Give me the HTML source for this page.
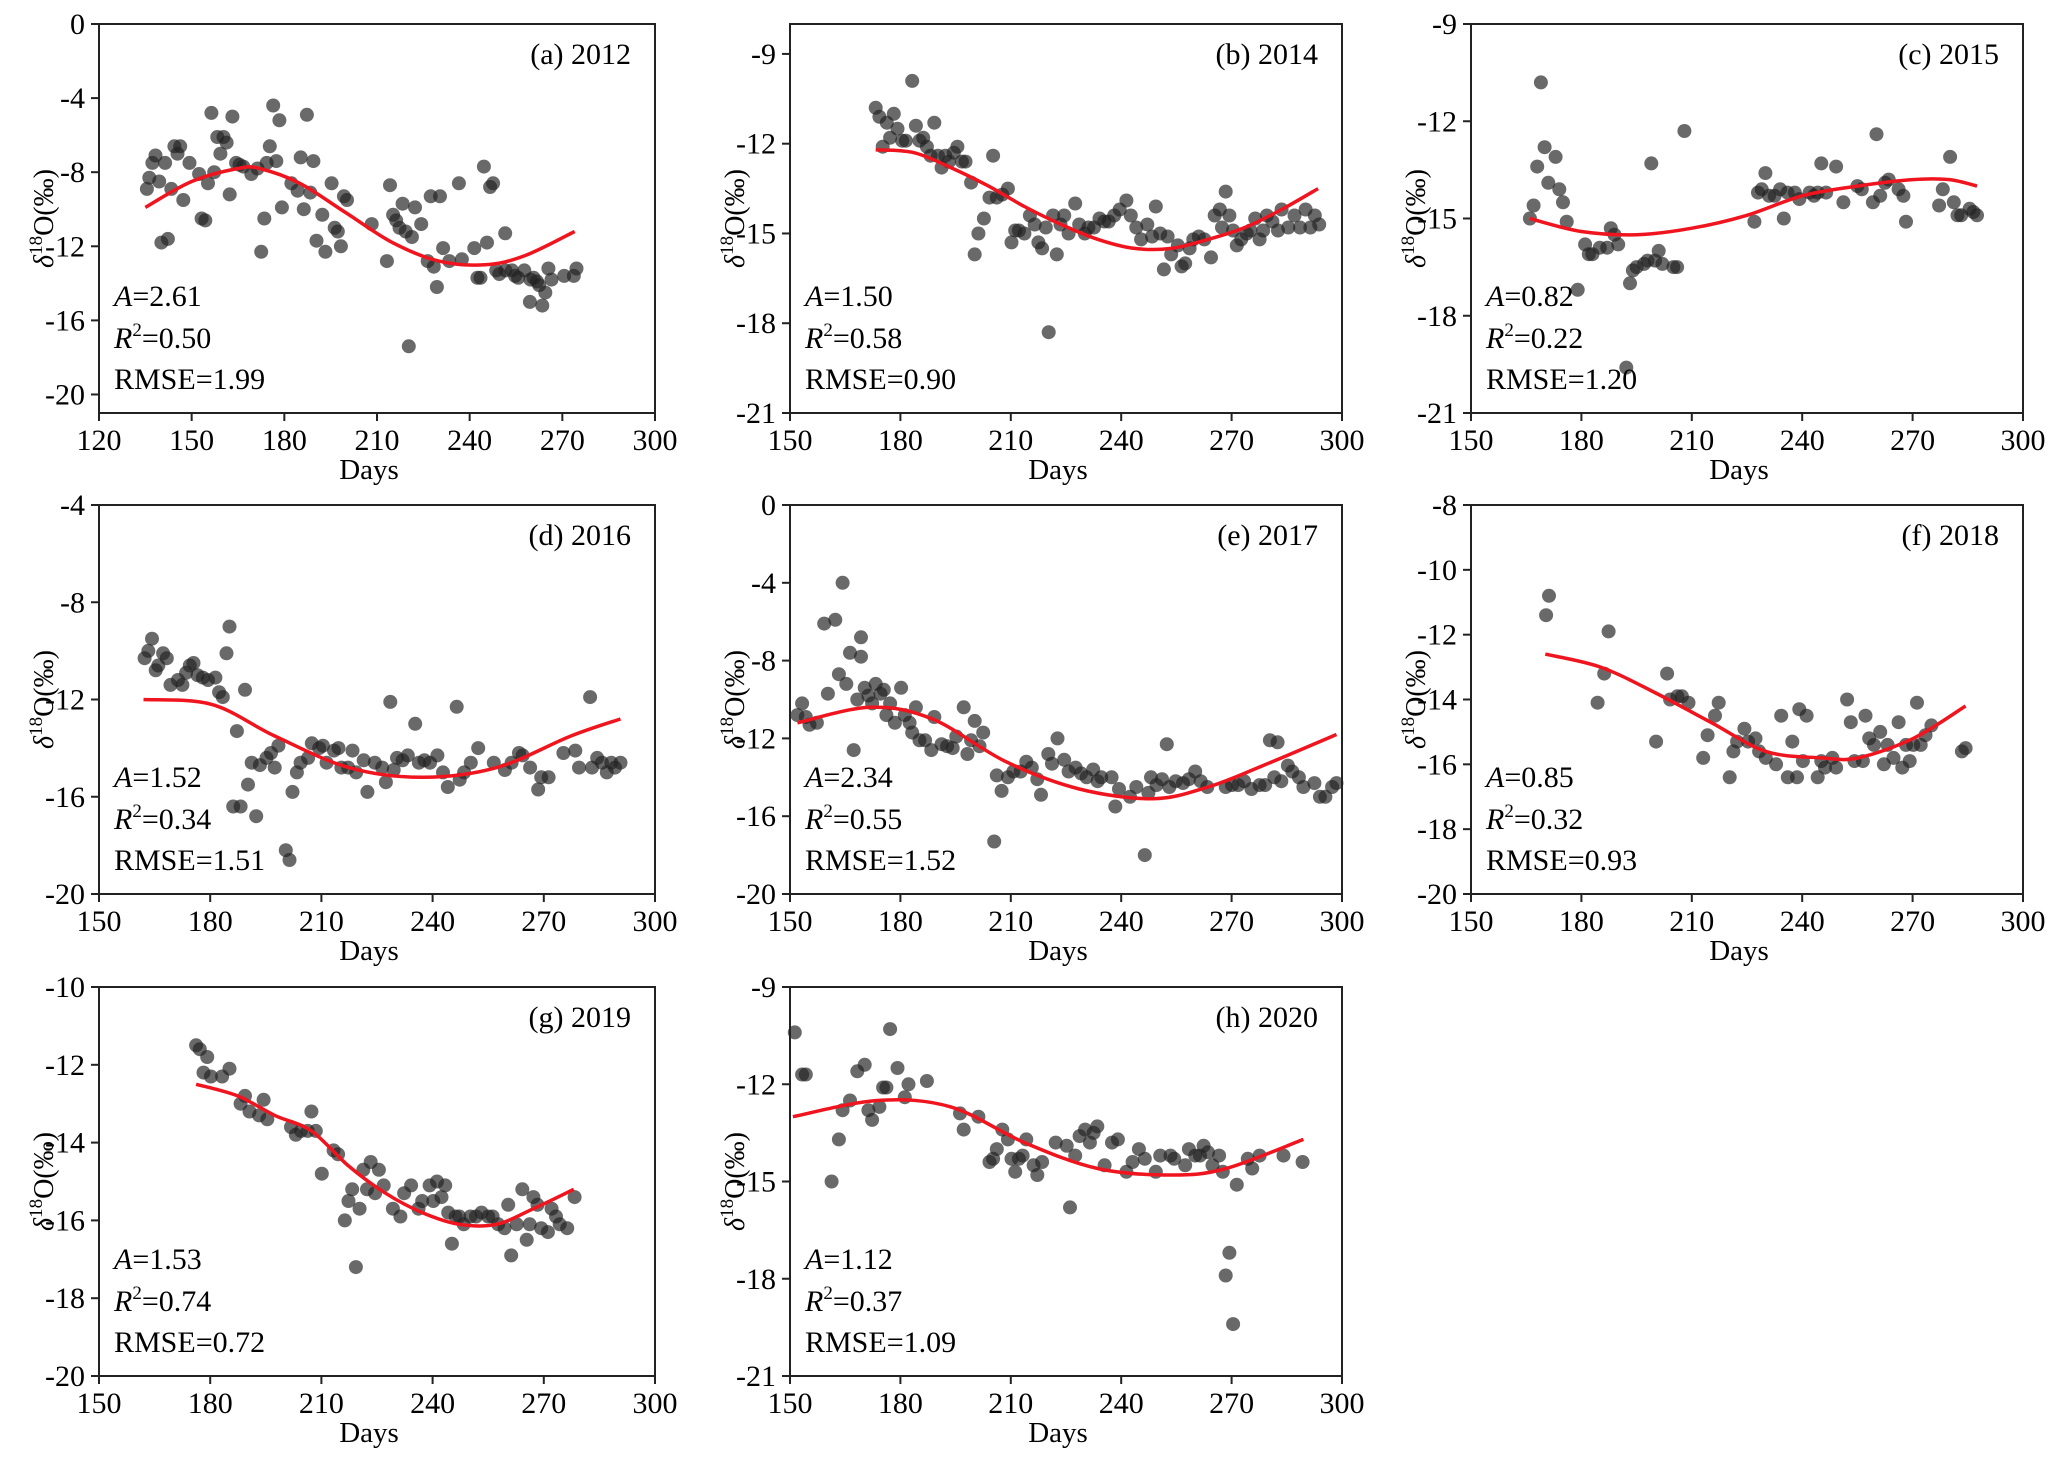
<!DOCTYPE html>
<html><head><meta charset="utf-8"><style>
html,body{margin:0;padding:0;background:#fff;}
svg text{font-family:"Liberation Serif","Times New Roman",serif;fill:#000;}
</style></head><body>
<svg id="fig" xmlns="http://www.w3.org/2000/svg" width="2067" height="1456" viewBox="0 0 2067 1456"></svg>
<script>
// ---- Panel (a) 2012 ----
const days_a=[135.5,136.3,137.3,138.3,139.5,140.2,142.3,141.4,143.4,144.4,145.4,146.3,147.3,149.3,152.4,153.2,154.4,155.3,156.4,157.3,158.3,159.3,160.3,161.3,162.3,163.2,164.4,165.5,166.7,169.3,171.3,172.5,173.5,174.3,175.3,176.4,177.4,178.4,179.2,182.3,184.3,185.3,186.3,187.3,188.4,189.4,190.4,192.3,193.3,195.3,196.3,197.3,198.3,199.3,200.3,208.3,213.2,214.2,215.2,216.2,217.3,218.3,219.3,220.3,221.3,222.3,224.3,226.4,227.4,228.4,229.4,230.4,231.4,233.4,236.5,237.5,241.5,242.5,243.5,244.6,245.6,246.6,247.6,248.6,249.6,251.5,251.6,253.7,254.7,255.7,257.7,259.7,259.5,260.7,261.8,262.5,263.5,264.5,265.5,266.5,270.6,273.7,274.6];
const vals_a=[-8.9,-8.3,-7.5,-7.1,-8.5,-11.8,-11.6,-7.5,-8.9,-6.6,-7.0,-6.6,-9.5,-7.5,-8.1,-10.5,-10.6,-8.6,-4.8,-8.0,-6.1,-7.0,-6.1,-6.4,-9.2,-5.0,-7.5,-7.6,-7.7,-8.1,-7.8,-12.3,-10.5,-7.5,-6.6,-4.4,-7.4,-5.2,-9.9,-8.6,-9.0,-7.2,-10.0,-4.9,-9.1,-7.4,-11.7,-10.3,-12.3,-8.6,-11.0,-11.2,-12.0,-9.3,-9.5,-10.8,-12.8,-8.7,-10.3,-10.6,-11.0,-9.7,-11.2,-17.4,-11.5,-9.9,-10.8,-12.8,-9.3,-13.1,-14.2,-9.3,-12.1,-12.8,-8.6,-12.7,-12.1,-13.7,-13.7,-7.7,-11.8,-8.8,-8.6,-13.3,-13.5,-11.3,-13.3,-13.3,-13.6,-13.7,-13.3,-13.8,-15.0,-13.7,-13.9,-14.1,-15.2,-14.5,-13.2,-13.8,-13.6,-13.6,-13.2];
const fitDays_a=[135,150,165,172,185,200,215,230,245,258,274];
const fitVals_a=[-9.9,-8.5,-7.8,-7.8,-8.6,-10.2,-11.8,-12.8,-13.0,-12.5,-11.2];
// ---- Panel (b) 2014 ----
const days_b=[173.3,174.3,175.2,176.3,177.2,178.2,179.2,180.5,181.5,183.2,184.2,185.2,186.2,187.2,188.2,189.2,190.2,191.2,192.2,193.2,194.5,195.5,196.7,197.7,199.2,200.2,201.2,202.7,204.2,205.2,206.2,207.7,209.2,210.2,211.2,212.2,213.7,215.2,216.5,217.5,218.5,219.5,220.3,221.5,222.5,223.5,224.5,225.7,227.5,228.6,230.1,231.1,232.6,234.1,235.4,236.6,238.1,239.6,241.4,242.6,244.1,245.4,247.1,248.4,249.4,250.6,251.6,252.6,253.6,255.4,256.4,257.4,258.6,259.6,261.1,262.6,264.4,265.4,266.8,267.4,268.4,269.4,270.4,271.4,272.6,274.1,275.1,276.4,277.6,278.6,279.6,281.1,282.6,283.6,285.4,287.1,288.6,290.1,291.4,292.6,293.8];
const vals_b=[-10.8,-11.1,-12.1,-11.3,-11.8,-11.0,-11.5,-11.9,-11.9,-9.9,-11.4,-11.9,-11.8,-12.1,-12.4,-11.3,-12.4,-12.8,-12.4,-12.6,-12.3,-12.1,-12.6,-12.6,-13.3,-15.7,-15.0,-14.5,-13.8,-12.4,-13.8,-13.7,-13.5,-15.3,-14.9,-14.9,-15.0,-14.4,-14.7,-15.3,-15.5,-14.8,-18.3,-14.4,-15.7,-14.7,-14.4,-15.0,-14.0,-14.7,-15.0,-14.8,-14.8,-14.5,-14.6,-14.6,-14.4,-14.2,-13.9,-14.4,-14.8,-15.2,-14.7,-15.1,-14.1,-15.0,-16.2,-15.1,-15.7,-15.4,-16.1,-16.0,-15.5,-15.2,-15.1,-15.2,-15.8,-14.4,-14.2,-14.8,-13.6,-14.4,-14.9,-15.4,-15.2,-15.0,-14.9,-14.5,-15.2,-14.9,-14.4,-14.6,-14.9,-14.2,-14.8,-14.4,-14.8,-14.2,-14.8,-14.4,-14.7];
const fitDays_b=[173.3,183.7,193.7,203.7,213.7,223.7,233.7,243.6,253.6,263.6,273.6,283.6,293.5];
const fitVals_b=[-12.2,-12.3,-12.8,-13.4,-14.1,-14.7,-15.2,-15.5,-15.5,-15.2,-14.8,-14.2,-13.5];
// ---- Panel (c) 2015 ----
const days_c=[166,167,168,169,170,171,173,174,175,176,179,181,182,183,185,187,188,189,190,192.2,193.2,194,195,197,198,199,200,201,202,205,206,208,227,228,229,230,231,232.5,234,235,236,238,239.2,242,243.2,244.2,245.2,246.5,249.2,251.2,255,256.2,259.2,260.2,261.2,262.5,263.5,266.2,267.5,268.2,277.2,278.2,280.2,281.2,282.2,283.2,285.5,286.5,287.5];
const vals_c=[-15.0,-14.6,-13.4,-10.8,-12.8,-13.9,-13.1,-14.1,-14.5,-15.1,-17.2,-15.8,-16.1,-16.1,-15.9,-15.9,-15.3,-15.5,-15.8,-19.6,-17.0,-16.6,-16.5,-16.4,-16.3,-13.3,-16.3,-16.0,-16.4,-16.5,-16.5,-12.3,-15.1,-14.2,-14.1,-13.6,-14.3,-14.3,-14.1,-15.0,-14.2,-14.2,-14.4,-14.2,-14.3,-14.2,-13.3,-14.2,-13.4,-14.5,-14.0,-14.1,-14.5,-12.4,-14.3,-13.9,-13.8,-14.1,-14.3,-15.1,-14.6,-14.1,-13.1,-14.5,-14.9,-14.9,-14.7,-14.8,-14.9];
const fitDays_c=[166,180,195,210,225,240,255,270,280,287.5];
const fitVals_c=[-15.0,-15.4,-15.5,-15.3,-14.9,-14.3,-14.0,-13.8,-13.8,-14.0];
// ---- Panel (d) 2016 ----
const days_d=[162.3,163.3,164.3,165.3,166,167.3,168.3,169.3,171.3,172.5,173.5,174.5,175.5,176.6,178,179.4,181.4,182.4,183.4,184.4,185.2,187.2,186.2,188.2,189.4,190.2,191.2,192.4,193.4,195.2,196.4,197.4,198.4,200.4,201.4,202.2,203.4,204.4,206.4,207.4,209.4,210.4,211.4,213.4,214.6,215.4,217.2,218.4,219.4,221.4,222.4,224.4,226.4,227.4,228.6,229.5,230.4,231.9,233.3,235.3,236.3,237.8,239.3,241.3,242.8,244.1,246.5,247.3,248.5,250.3,252.3,256.5,259.5,261.3,263.3,264.3,266.3,268.5,269.3,271.3,275.3,278.5,279.5,282.5,283,284.4,285.7,287,288.2,289.2,290.7];
const vals_d=[-10.3,-10.0,-9.5,-10.8,-10.6,-10.1,-10.3,-11.4,-11.2,-11.4,-10.9,-10.6,-10.5,-11.0,-11.1,-11.2,-11.1,-11.7,-11.9,-10.1,-9.0,-13.3,-16.4,-16.4,-11.6,-15.5,-14.6,-16.8,-14.7,-14.4,-14.2,-14.8,-13.9,-18.2,-18.6,-15.8,-15.0,-14.6,-14.4,-13.8,-14.0,-13.9,-14.6,-14.1,-14.0,-14.8,-14.8,-14.1,-15.0,-14.5,-15.8,-14.6,-14.8,-15.4,-12.1,-14.9,-14.4,-14.5,-14.3,-13.0,-14.6,-14.5,-14.6,-14.3,-15.0,-15.6,-12.3,-15.3,-15.0,-14.6,-14.0,-14.6,-14.9,-14.6,-14.2,-14.3,-14.8,-15.7,-15.2,-15.2,-14.2,-14.1,-14.8,-11.9,-14.8,-14.4,-14.6,-15.0,-14.6,-14.8,-14.6];
const fitDays_d=[162,180.4,197.4,217.4,237.3,257.3,277.3,290.7];
const fitVals_d=[-12.0,-12.2,-13.5,-14.8,-15.2,-14.8,-13.5,-12.8];
// ---- Panel (e) 2017 ----
const days_e=[152,153.3,154.3,155.3,157.3,159.3,160.3,162.3,163.3,164.3,165.3,166.3,167.3,168.3,169.3,169.3,170.3,171.3,172.3,173.3,174.6,175.5,176.2,177.2,178.5,180.2,181.2,182.5,183.2,184.2,185.2,186.7,188.4,189.2,191.2,192.7,194.2,195.2,197.2,198.2,199.2,200.2,201.5,202.5,205.5,206.2,207.5,209.2,210.7,212.7,214.2,215.7,217.2,218.2,220.2,221.2,222.7,224.5,225.7,227.6,229.1,230.6,232.4,233.6,234.6,237.4,238.4,239.4,242.4,244.1,246.4,247.4,248.1,249.6,251.1,252.4,253.1,254.8,256.8,258.4,260.1,261.6,263.4,268.4,270.1,271.8,273.4,275.4,277.6,279.1,280.4,281.6,282.5,283.5,285.3,286.5,288.3,289.5,292.5,294,295.5,297.3,298.5];
const vals_e=[-10.8,-10.2,-10.9,-11.3,-11.2,-6.1,-9.7,-5.9,-8.7,-4.0,-9.2,-7.6,-12.6,-10.0,-6.8,-7.8,-9.4,-9.8,-10.2,-9.2,-9.7,-9.5,-10.8,-10.2,-11.2,-9.4,-10.8,-11.2,-11.7,-10.4,-12.1,-12.1,-12.6,-10.9,-12.3,-12.4,-12.5,-11.9,-10.4,-12.8,-12.1,-11.1,-12.4,-11.7,-17.3,-13.9,-14.7,-14.0,-13.7,-13.7,-13.2,-13.5,-14.1,-14.9,-12.8,-13.3,-12.0,-13.1,-13.7,-13.5,-13.8,-14.0,-13.6,-14.2,-14.0,-14.0,-15.5,-14.6,-15.0,-14.5,-18.0,-14.8,-14.0,-14.4,-14.1,-12.3,-14.5,-14.2,-14.3,-14.1,-13.7,-14.2,-14.5,-14.5,-14.4,-14.4,-14.2,-14.6,-14.4,-14.4,-12.1,-14.0,-12.2,-14.2,-13.4,-13.7,-14.0,-14.5,-14.3,-15.0,-15.0,-14.5,-14.3];
const fitDays_e=[152,171.8,188.7,208.7,228.6,248.6,263.6,278.5,298.5];
const fitVals_e=[-11.2,-10.4,-11.0,-13.2,-14.6,-15.1,-14.5,-13.4,-11.8];
// ---- Panel (f) 2018 ----
const days_f=[170.4,171.2,184.4,186.2,187.4,200.3,203.3,204.1,206.1,207.3,209.1,213.1,214.3,216.3,217.3,220.3,221.3,222.3,224.3,225.3,227.3,228.3,230.1,232.9,234.3,236.1,237.3,238.6,239.2,240.2,241.2,244.2,245.2,246.2,248.2,249.2,252.2,253.2,254.2,256.5,257.2,258.2,259.5,261.2,262.2,263.2,264.8,266.2,267.2,268.2,269.2,270.2,271.2,272.2,273.5,275.1,283.4,284.4];
const vals_f=[-11.4,-10.8,-14.1,-13.2,-11.9,-15.3,-13.2,-14.0,-13.9,-13.9,-14.1,-15.8,-15.1,-14.5,-14.1,-16.4,-15.6,-15.3,-14.9,-15.3,-15.2,-15.6,-15.8,-16.0,-14.5,-16.4,-15.3,-16.4,-14.3,-15.9,-14.5,-16.4,-15.9,-16.1,-15.8,-16.1,-14.0,-14.7,-15.9,-15.9,-14.5,-15.2,-15.4,-15.0,-16.0,-15.4,-15.8,-14.7,-16.1,-15.4,-15.9,-15.4,-14.1,-15.4,-15.1,-14.8,-15.6,-15.5];
const fitDays_f=[170.2,185.2,200.2,215.1,230.1,245.2,255.2,270.2,284.4];
const fitVals_f=[-12.6,-13.0,-13.8,-14.7,-15.6,-15.8,-15.8,-15.2,-14.2];
// ---- Panel (g) 2019 ----
const days_g=[176.2,177.2,179.2,178.2,180.2,183.2,185.2,188.2,189.4,190.6,193.2,194.4,195.4,201.8,203.1,204.5,206.3,207.3,208.5,210.1,213.3,214.5,216.3,217.3,218.3,219.3,220.3,221.3,222.3,223.3,224.5,225.5,226.8,229.3,231.3,232.3,234.2,236.2,237.2,239.2,240.2,241.2,242.4,243.4,244.2,245.2,246.2,247.2,248.4,250.2,251.7,253.2,255,256.2,257.7,259.4,260.4,261.2,262.7,264.2,265.4,266.2,267.2,268.3,269.3,271.1,272.1,273.3,274.3,276.3,278.3];
const vals_g=[-11.5,-11.6,-11.8,-12.2,-12.3,-12.3,-12.1,-13.0,-12.8,-13.2,-13.3,-12.9,-13.4,-13.6,-13.8,-13.7,-13.7,-13.2,-13.7,-14.8,-14.2,-14.3,-16.0,-15.5,-15.2,-17.2,-15.7,-14.7,-15.2,-14.5,-15.3,-14.7,-15.1,-15.7,-15.9,-15.3,-15.1,-15.7,-15.5,-15.1,-15.5,-15.0,-15.4,-15.1,-15.8,-16.6,-15.9,-15.9,-16.1,-15.9,-15.9,-15.8,-15.9,-15.9,-16.1,-16.2,-15.6,-16.9,-16.1,-15.2,-16.5,-16.1,-15.4,-15.6,-16.2,-16.3,-15.7,-15.9,-16.1,-16.2,-15.4];
const fitDays_g=[176.2,187.4,197.4,207.3,217.3,227.3,237.2,247.2,257.2,267.2,278.1];
const fitVals_g=[-12.5,-12.8,-13.3,-13.7,-14.6,-15.3,-15.8,-16.1,-16.1,-15.7,-15.2];
// ---- Panel (h) 2020 ----
const days_h=[151.3,153.3,154.3,161.3,163.3,164.3,166.3,168.3,170.3,171.3,172.3,174.3,175.3,176.2,177.2,179.2,181.2,182.2,187.2,196.2,197.2,201.2,204.2,205.2,206.2,207.7,209.2,210.2,211.2,212.2,213.2,214.2,216.2,217.2,218.5,222.2,225.2,226.1,227.5,228.7,230.2,231.5,232.5,233.5,235.5,237.5,239.1,241.4,243.1,244.8,246.4,249.4,250.6,253.4,254.4,257.4,258.4,260.1,261.4,262.4,263.6,264.8,266.6,267.6,269.4,268.4,270.4,271.4,274.4,275.6,277.6,284.1,289.3];
const vals_h=[-10.4,-11.7,-11.7,-15.0,-13.7,-12.8,-12.5,-11.6,-11.4,-12.8,-13.1,-12.7,-12.1,-12.1,-10.3,-11.5,-12.4,-12.0,-11.9,-12.9,-13.4,-13.0,-14.4,-14.3,-14.0,-13.4,-13.7,-14.3,-14.7,-14.3,-14.2,-13.7,-14.5,-14.8,-14.4,-13.8,-13.9,-15.8,-14.2,-13.6,-13.4,-13.8,-13.5,-13.3,-14.5,-13.8,-13.7,-14.7,-14.4,-14.0,-14.3,-14.7,-14.2,-14.2,-14.3,-14.5,-14.0,-14.2,-14.2,-13.9,-14.1,-14.5,-14.2,-14.7,-17.2,-17.9,-19.4,-15.1,-14.3,-14.6,-14.2,-14.2,-14.4];
const fitDays_h=[150.8,173.8,193.7,213.7,233.6,253.6,268.5,289.5];
const fitVals_h=[-13.0,-12.5,-12.7,-13.8,-14.6,-14.8,-14.6,-13.7];
// ---- tick labels ----
const xTicks_a=[120,150,180,210,240,270,300];
const xTicks_std=[150,180,210,240,270,300];
const yTicks_a=[0,-4,-8,-12,-16,-20];
const yTicks_b=[-9,-12,-15,-18,-21];
const yTicks_d=[-4,-8,-12,-16,-20];
const yTicks_e=[0,-4,-8,-12,-16,-20];
const yTicks_f=[-8,-10,-12,-14,-16,-18,-20];
const yTicks_g=[-10,-12,-14,-16,-18,-20];
const titles=["(a) 2012","(b) 2014","(c) 2015","(d) 2016","(e) 2017","(f) 2018","(g) 2019","(h) 2020"];
const statA=["2.61","1.50","0.82","1.52","2.34","0.85","1.53","1.12"];
const statR2=["0.50","0.58","0.22","0.34","0.55","0.32","0.74","0.37"];
const statRMSE=["1.99","0.90","1.20","1.51","1.52","0.93","0.72","1.09"];

const NS="http://www.w3.org/2000/svg";
const svg=document.getElementById('fig');
function mk(tag,attrs,parent){const e=document.createElementNS(NS,tag);for(const k in attrs)e.setAttribute(k,attrs[k]);(parent||svg).appendChild(e);return e;}

const panels=[
 {id:'a',days:days_a,vals:vals_a,fd:fitDays_a,fv:fitVals_a,xd:[120,300],yd:[-21,0],xt:xTicks_a,yt:yTicks_a},
 {id:'b',days:days_b,vals:vals_b,fd:fitDays_b,fv:fitVals_b,xd:[150,300],yd:[-21,-8],xt:xTicks_std,yt:yTicks_b},
 {id:'c',days:days_c,vals:vals_c,fd:fitDays_c,fv:fitVals_c,xd:[150,300],yd:[-21,-9],xt:xTicks_std,yt:yTicks_b},
 {id:'d',days:days_d,vals:vals_d,fd:fitDays_d,fv:fitVals_d,xd:[150,300],yd:[-20,-4],xt:xTicks_std,yt:yTicks_d},
 {id:'e',days:days_e,vals:vals_e,fd:fitDays_e,fv:fitVals_e,xd:[150,300],yd:[-20,0],xt:xTicks_std,yt:yTicks_e},
 {id:'f',days:days_f,vals:vals_f,fd:fitDays_f,fv:fitVals_f,xd:[150,300],yd:[-20,-8],xt:xTicks_std,yt:yTicks_f},
 {id:'g',days:days_g,vals:vals_g,fd:fitDays_g,fv:fitVals_g,xd:[150,300],yd:[-20,-10],xt:xTicks_std,yt:yTicks_g},
 {id:'h',days:days_h,vals:vals_h,fd:fitDays_h,fv:fitVals_h,xd:[150,300],yd:[-21,-9],xt:xTicks_std,yt:yTicks_b}
];
const colL=[99,790,1471], colW=[556,552,552], rowT=[24,505,987], H=389;

panels.forEach((p,i)=>{
  const L=colL[i%3], W=colW[i%3], T=rowT[Math.floor(i/3)];
  const X=d=>L+(d-p.xd[0])/(p.xd[1]-p.xd[0])*W;
  const Y=v=>T+(p.yd[1]-v)/(p.yd[1]-p.yd[0])*H;
  const g=mk('g',{});
  
  
  const pg=mk('g',{},g);
  
  
  p.days.forEach((d,j)=>{
    const c=mk('circle',{cx:X(d).toFixed(1),cy:Y(p.vals[j]).toFixed(1),r:7,fill:'#222','fill-opacity':0.68},pg);
    
    
  });
  const pts=p.fd.map((d,j)=>[X(d),Y(p.fv[j])]);
  let dstr='M'+pts[0][0].toFixed(1)+','+pts[0][1].toFixed(1);
  for(let j=0;j<pts.length-1;j++){
    const p0=pts[Math.max(0,j-1)],p1=pts[j],p2=pts[j+1],p3=pts[Math.min(pts.length-1,j+2)];
    const c1=[p1[0]+(p2[0]-p0[0])/6,p1[1]+(p2[1]-p0[1])/6];
    const c2=[p2[0]-(p3[0]-p1[0])/6,p2[1]-(p3[1]-p1[1])/6];
    dstr+=' C'+c1[0].toFixed(1)+','+c1[1].toFixed(1)+' '+c2[0].toFixed(1)+','+c2[1].toFixed(1)+' '+p2[0].toFixed(1)+','+p2[1].toFixed(1);
  }
  const fit=mk('path',{d:dstr,fill:'none',stroke:'#f0141e','stroke-width':3.5},g);
  
  
  const fr=mk('rect',{x:L,y:T,width:W,height:H,fill:'none',stroke:'#222','stroke-width':2},g);
  
  
  const xa=mk('g',{},g);
  
  
  p.xt.forEach(t=>{
    const x=X(t);
    mk('line',{x1:x,y1:T+H,x2:x,y2:T+H+8,stroke:'#222','stroke-width':2},xa);
    const tx=mk('text',{x:x,y:T+H+37,'font-size':30,'text-anchor':'middle'},xa);
    tx.textContent=t;
    
    
  });
  const xl=mk('text',{x:L+W/2-8,y:T+H+66,'font-size':29,'text-anchor':'middle'},g);
  xl.textContent='Days';
  
  
  const ya=mk('g',{},g);
  
  
  p.yt.forEach(t=>{
    const y=Y(t);
    mk('line',{x1:L-8,y1:y,x2:L,y2:y,stroke:'#222','stroke-width':2},ya);
    const tx=mk('text',{x:L-14,y:y+10,'font-size':30,'text-anchor':'end'},ya);
    tx.textContent=t;
    
    
  });
  const yl=mk('text',{x:0,y:0,'font-size':28,'text-anchor':'middle',transform:'translate('+(L-46)+','+(T+H/2)+') rotate(-90)'},g);
  
  
  const t1=mk('tspan',{'font-style':'italic'},yl);t1.textContent='δ';
  const t2=mk('tspan',{'font-size':19,dy:-11},yl);t2.textContent='18';
  const t3=mk('tspan',{dy:11},yl);t3.textContent='O(‰)';
  const ti=mk('text',{x:L+W-24,y:T+40,'font-size':30,'text-anchor':'end'},g);
  ti.textContent=titles[i];
  
  
  const sx=L+15;
  const s1=mk('text',{x:sx,y:T+H-107,'font-size':30},g);
  
  
  const a1=mk('tspan',{'font-style':'italic'},s1);a1.textContent='A';
  const a2=mk('tspan',{},s1);a2.textContent='='+statA[i];
  const s2=mk('text',{x:sx,y:T+H-65,'font-size':30},g);
  
  
  const r1=mk('tspan',{'font-style':'italic'},s2);r1.textContent='R';
  const r2=mk('tspan',{'font-size':19,dy:-12},s2);r2.textContent='2';
  const r3=mk('tspan',{dy:12},s2);r3.textContent='='+statR2[i];
  const s3=mk('text',{x:sx,y:T+H-24,'font-size':30},g);
  s3.textContent='RMSE='+statRMSE[i];
  
  
});
</script>
</body></html>
